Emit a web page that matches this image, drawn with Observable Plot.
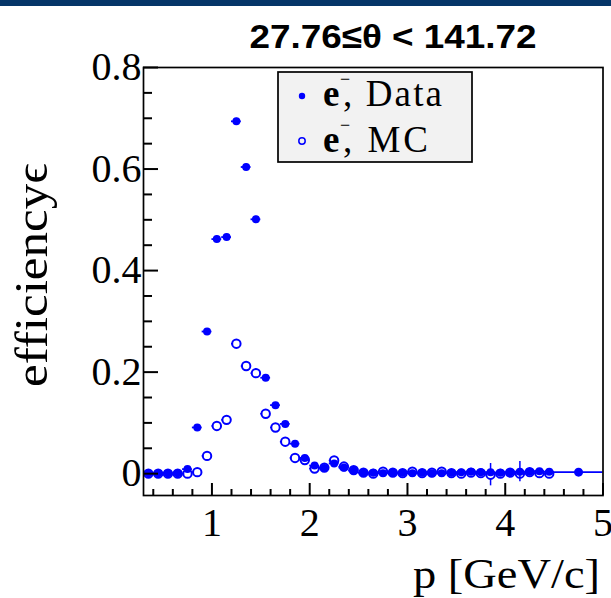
<!DOCTYPE html>
<html><head><meta charset="utf-8">
<script src="https://cdn.jsdelivr.net/npm/d3@7"></script>
<script src="https://cdn.jsdelivr.net/npm/@observablehq/plot@0.6"></script>
<style>
html,body{margin:0;padding:0;background:#fff;}
#wrap{position:relative;width:611px;height:598px;overflow:hidden;}
#bar{position:absolute;left:0;top:0;width:611px;height:6px;background:#053568;z-index:2;}
</style></head><body>
<div id="wrap"><div id="bar"></div></div>
<script>
// Momentum bin centres [GeV/c]
const pBins = [0.35,0.45,0.55,0.65,0.75,0.85,0.95,1.05,1.15,1.25,1.35,1.45,1.55,1.65,1.75,1.85,1.95,2.05,2.15,2.25,2.35,2.45,
  2.55,2.65,2.75,2.85,2.95,3.05,3.15,3.25,3.35,3.45,3.55,3.65,3.75,3.85,3.95,4.05,4.15,4.25,4.35,4.45];
// e-, Data efficiency
const effData = [0.001,0.001,0.001,0.001,0.009,0.091,0.280,0.462,0.466,0.694,0.604,0.501,0.189,0.135,0.098,0.059,0.031,0.016,0.011,0.020,0.012,0.006,
  0.002,0.002,0.001,0.002,0.002,0.001,0.002,0.001,0.001,0.002,0.003,0.004,0.003,0.003,0.002,0.003,0.004,0.004,0.005,0.004];
const errData = [0.002,0.002,0.002,0.002,0.004,0.005,0.006,0.006,0.006,0.006,0.006,0.006,0.005,0.005,0.004,0.004,0.003,0.003,0.003,0.003,0.003,0.003,
  0.002,0.002,0.002,0.002,0.002,0.002,0.002,0.002,0.002,0.002,0.003,0.003,0.003,0.003,0.003,0.004,0.020,0.004,0.005,0.005];
// e-, MC efficiency
const effMC = [0.000,0.000,0.000,0.000,0.000,0.003,0.035,0.094,0.106,0.256,0.212,0.198,0.118,0.091,0.063,0.031,0.027,0.010,0.012,0.026,0.014,0.007,
  0.002,0.000,0.004,0.002,0.001,0.004,0.001,0.002,0.004,0.001,0.000,0.002,0.001,-0.002,0.000,0.002,0.000,0.003,0.001,0.000];
const errMC = [0.001,0.001,0.001,0.001,0.001,0.002,0.005,0.006,0.006,0.008,0.008,0.008,0.006,0.005,0.005,0.004,0.004,0.003,0.003,0.004,0.003,0.003,
  0.002,0.002,0.002,0.002,0.002,0.002,0.002,0.002,0.002,0.002,0.002,0.002,0.002,0.022,0.002,0.002,0.002,0.002,0.002,0.002];
const binHalf = 0.05;
// last wide Data bin
const pLast = [4.75];
const effLast = [0.003];
const halfLast = [0.30];

const xMajor = [1, 2, 3, 4, 5];
const yMajor = [0, 0.2, 0.4, 0.6, 0.8];
const yTickLabels = ["0", "0.2", "0.4", "0.6", "0.8"];
const xMinor = d3.range(0.4, 5.0, 0.2).filter(v => Math.abs(v - Math.round(v)) > 1e-6);
const yMinor = d3.range(0.05, 0.8, 0.05).filter(v => Math.abs(v / 0.2 - Math.round(v / 0.2)) > 1e-6);

const dataRows = pBins.map((p, i) => ({p, v: effData[i], e: errData[i], h: binHalf}));
const lastRows = pLast.map((p, i) => ({p, v: effLast[i], e: 0.003, h: halfLast[i]}));
const mcRows = pBins.map((p, i) => ({p, v: effMC[i], e: errMC[i], h: binHalf}));

const blue = "#0000ff";
const serif = "'Liberation Serif', 'Times New Roman', serif";
const W = 611, H = 598, mL = 143, mR = 8.5, mT = 67, mB = 103;
const innerW = W - mL - mR, innerH = H - mT - mB;

const plot = Plot.plot({
  width: W, height: H,
  marginLeft: mL, marginRight: mR, marginTop: mT, marginBottom: mB,
  x: {domain: [0.3, 5]},
  y: {domain: [-0.043, 0.8]},
  style: {background: "transparent"},
  marks: [
    // error bars + markers (MC)
    Plot.ruleY(mcRows, {y: "v", x1: d => d.p - d.h, x2: d => d.p + d.h, stroke: blue, strokeWidth: 1.5}),
    Plot.ruleX(mcRows, {x: "p", y1: d => d.v - d.e, y2: d => d.v + d.e, stroke: blue, strokeWidth: 1.5}),
    Plot.dot(mcRows, {x: "p", y: "v", r: 4.2, stroke: blue, strokeWidth: 2, fill: "white"}),
    // error bars + markers (Data)
    Plot.ruleY(dataRows, {y: "v", x1: d => d.p - d.h, x2: d => d.p + d.h, stroke: blue, strokeWidth: 1.8}),
    Plot.ruleX(dataRows, {x: "p", y1: d => d.v - d.e, y2: d => d.v + d.e, stroke: blue, strokeWidth: 1.5}),
    Plot.dot(dataRows, {x: "p", y: "v", r: 4, fill: blue, stroke: "none"}),
    Plot.ruleY(lastRows, {y: "v", x1: d => d.p - d.h, x2: d => d.p + d.h, stroke: blue, strokeWidth: 1.8, clip: true}),
    Plot.dot(lastRows, {x: "p", y: "v", r: 4.5, fill: blue, stroke: "none"}),
    // tick labels
    Plot.axisX(xMajor, {tickSize: 0, tickPadding: 12, label: null, fontSize: 40, fontFamily: serif, fill: "black"}),
    Plot.axisY(yMajor, {tickSize: 0, tickPadding: 2, label: null, tickFormat: (d, i) => yTickLabels[i], fontSize: 40, fontFamily: serif, fill: "black"}),
    Plot.frame({stroke: "black", strokeWidth: 1.7}),
    // inward ticks
    Plot.ruleX(xMajor, {x: d => d, insetTop: innerH - 12, stroke: "black", strokeWidth: 2}),
    Plot.ruleX(xMinor, {x: d => d, insetTop: innerH - 6, stroke: "black", strokeWidth: 2}),
    Plot.ruleY(yMajor, {y: d => d, insetRight: innerW - 15, stroke: "black", strokeWidth: 2}),
    Plot.ruleY(yMinor, {y: d => d, insetRight: innerW - 9, stroke: "black", strokeWidth: 2})
  ]
});
document.getElementById("wrap").appendChild(plot);

const svg = d3.select(plot);
// title
svg.append("text").attr("x", 393).attr("y", 48).attr("text-anchor", "middle")
  .attr("textLength", 287).attr("lengthAdjust", "spacingAndGlyphs")
  .style("font-family", "'Liberation Sans', Arial, sans-serif").style("font-weight", "bold").style("font-size", "34px")
  .text("27.76≤θ < 141.72");
// axis titles
svg.append("text").attr("x", 413).attr("y", 588).attr("text-anchor", "start")
  .attr("textLength", 187).attr("lengthAdjust", "spacingAndGlyphs")
  .style("font-family", serif).style("font-size", "43px").text("p [GeV/c]");
svg.append("text").attr("transform", "translate(47,387) rotate(-90)").attr("text-anchor", "start")
  .attr("textLength", 224).attr("lengthAdjust", "spacingAndGlyphs")
  .style("font-family", serif).style("font-size", "46px").text("efficiencyϵ");
// legend
const lg = svg.append("g");
lg.append("rect").attr("x", 278).attr("y", 72).attr("width", 194).attr("height", 90)
  .attr("fill", "#f2f2f2").attr("stroke", "black").attr("stroke-width", 1.7);
lg.append("circle").attr("cx", 302).attr("cy", 96).attr("r", 3.2).attr("fill", blue);
lg.append("circle").attr("cx", 302).attr("cy", 141).attr("r", 3.2).attr("fill", "none").attr("stroke", blue).attr("stroke-width", 1.5);
const entries = [["Data", 106, 442], ["MC", 152, 428]];
for (const [lab, yb, xEnd] of entries) {
  lg.append("text").attr("x", 323).attr("y", yb).attr("text-anchor", "start")
    .style("font-family", serif).style("font-size", "37px").style("font-weight", "bold").text("e");
  lg.append("text").attr("x", 340).attr("y", yb - 21).attr("text-anchor", "start")
    .style("font-family", serif).style("font-size", "18px").text("−");
  lg.append("text").attr("x", 343).attr("y", yb).attr("text-anchor", "start")
    .attr("textLength", xEnd - 343).attr("lengthAdjust", "spacing")
    .style("font-family", serif).style("font-size", "37px").text(", " + lab);
}
</script>
</body></html>
